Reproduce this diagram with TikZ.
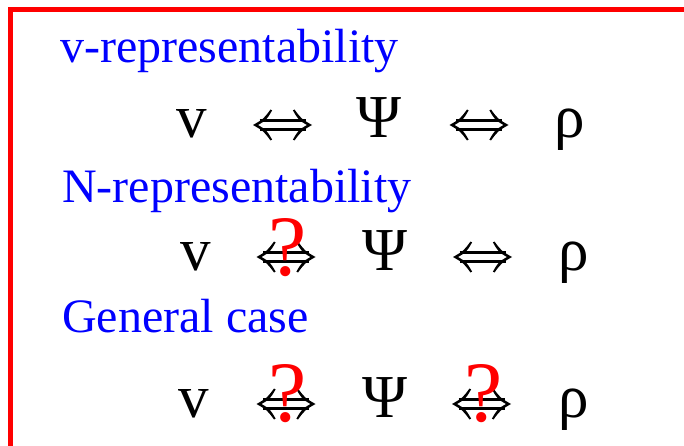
\documentclass[tikz,border=0pt]{standalone}
\usepackage{graphicx}
\usepackage{fontspec}
\setmainfont{Liberation Serif}
\newcommand{\bigqm}{\resizebox{!}{57pt}{?}}
\tikzset{
  lab/.style={text=blue, font=\fontsize{48}{48}\selectfont, anchor=base west, inner sep=0pt},
  sym/.style={font=\fontsize{61}{61}\selectfont, anchor=base, inner sep=0pt},
  qm/.style={text=red, font=\fontsize{80}{80}\selectfont, anchor=base, inner sep=0pt},
  frame/.style={draw=red, line width=5pt},
  iffpic/.pic={
    % shafts
    \draw[line width=2.2pt] (-23,-4.5) -- (23,-4.5);
    \draw[line width=2.2pt] (-23,4.5) -- (23,4.5);
    % left head
    \fill (-12,-15.5) .. controls (-19,-6) .. (-29.5,0)
          .. controls (-19,6) .. (-12,15.5)
          -- (-10.4,14.6) .. controls (-16,5) .. (-24.5,0)
          .. controls (-16,-5) .. (-10.4,-14.6) -- cycle;
    % right head
    \fill (12,-15.5) .. controls (19,-6) .. (29.5,0)
          .. controls (19,6) .. (12,15.5)
          -- (10.4,14.6) .. controls (16,5) .. (24.5,0)
          .. controls (16,-5) .. (10.4,-14.6) -- cycle;
  }
}
\begin{document}
\begin{tikzpicture}[x=1pt,y=-1pt]
\useasboundingbox (0,0) rectangle (684,446);
\clip (0,0) rectangle (684,446);
\fill[white] (0,0) rectangle (684,446);
\coordinate (fb) at (10.5,460);
\coordinate (fc) at (10.5,9.5);
\coordinate (fr) at (700,9.5);
\draw[frame] (fb) -- (fc) -- (fr);
% labels
\node[lab] (l1) at (60,63) {v-representability};
\node[lab] (l2) at (62,202) {N-representability};
\node[lab] (l3) at (62,332) {General case};
% row 1
\node[sym] (v1) at (191.5,138) {v};
\pic (a1) at (282.5,125) {iffpic};
\node[sym] (s1) at (379,138) {Ψ};
\pic (b1) at (479,125) {iffpic};
\node[sym] (r1) at (570,138) {ρ};
% row 2
\node[sym] (v2) at (196,270) {v};
\pic (a2) at (286,257) {iffpic};
\node[qm] (q2) at (288,275) {\bigqm};
\node[sym] (s2) at (385,270) {Ψ};
\pic (b2) at (482.5,257) {iffpic};
\node[sym] (r2) at (573.5,270) {ρ};
% row 3
\node[sym] (v3) at (194,417) {v};
\pic (a3) at (286,404) {iffpic};
\node[qm] (q3) at (288,421) {\bigqm};
\node[sym] (s3) at (384.5,417) {Ψ};
\pic (b3) at (481.5,404) {iffpic};
\node[qm] (q4) at (484,421) {\bigqm};
\node[sym] (r3) at (573.5,417) {ρ};
\end{tikzpicture}
\end{document}
